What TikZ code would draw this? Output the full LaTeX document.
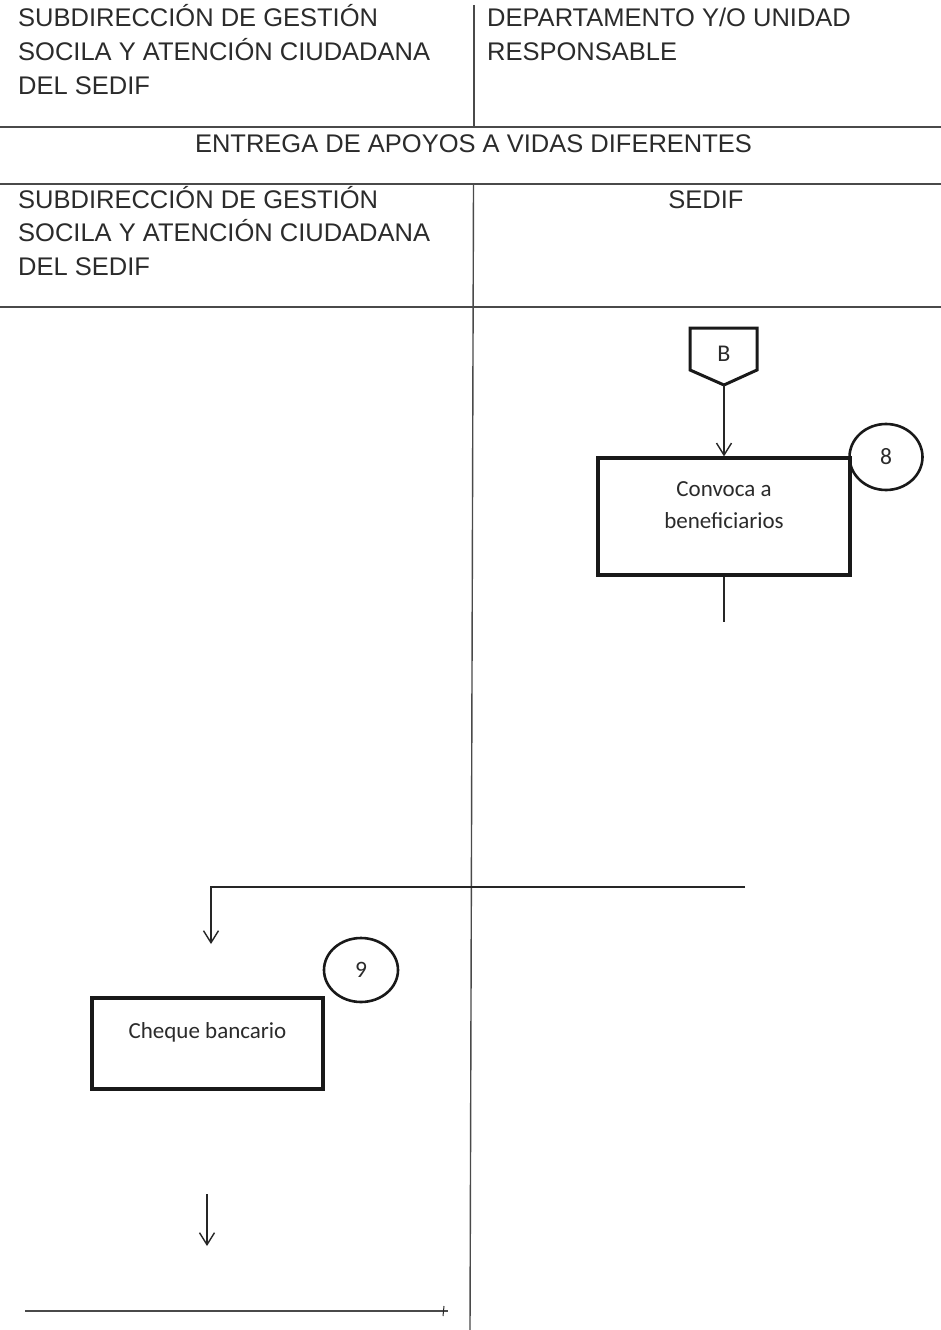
\documentclass[tikz,border=0pt]{standalone}
\usepackage{fontspec}
\setmainfont{Liberation Sans}
\newfontfamily\flowfont{Carlito}
\usetikzlibrary{arrows.meta,shapes.geometric}
\definecolor{ink}{HTML}{2B2B2B}
\definecolor{rule}{HTML}{4A4A4A}
\tikzset{
  hdr/.style={anchor=base west,inner sep=0,text=ink,font=\fontsize{25.5}{33.5}\selectfont},
  hdrc/.style={hdr,anchor=base},
  grid/.style={draw=rule,line width=1.4pt},
  procbox/.style={draw=black!90,line width=3.2pt,rectangle,inner sep=0},
  stepnum/.style={draw=black!90,line width=2.6pt,ellipse,inner sep=0,
    minimum width=73pt,minimum height=66pt,font=\flowfont\fontsize{23.5}{30}\selectfont,text=ink},
  flowtxt/.style={inner sep=0,align=center,text=ink,font=\flowfont\fontsize{23}{32}\selectfont},
  conn/.style={draw=black!85,line width=1.4pt},
  flowarrow/.style={conn,-{Straight Barb[length=12pt,width=15pt,line width=1.4pt]}}
}
\begin{document}
\begin{tikzpicture}[x=1pt,y=-1pt]
\useasboundingbox (0,0) rectangle (941,1330);
\fill[white] (0,0) rectangle (941,1330);

% table rules
\coordinate (vt0) at (474,5);
\coordinate (vt1) at (474,127);
\coordinate (vb0) at (473.5,184);
\coordinate (vb1) at (470,1330);
\draw[grid] (vt0) -- (vt1);
\draw[grid] (vb0) -- (vb1);
\coordinate (h1l) at (0,127);   \coordinate (h1r) at (941,127);
\coordinate (h2l) at (0,184);   \coordinate (h2r) at (941,184);
\coordinate (h3l) at (0,307);   \coordinate (h3r) at (941,307);
\draw[grid] (h1l) -- (h1r);
\draw[grid] (h2l) -- (h2r);
\draw[grid] (h3l) -- (h3r);

% header texts
\node[hdr] (ha1) at (18,27)   {SUBDIRECCIÓN DE GESTIÓN};
\node[hdr] (ha2) at (18,60.5) {SOCILA Y ATENCIÓN CIUDADANA};
\node[hdr] (ha3) at (18,94)   {DEL SEDIF};
\node[hdr] (hb1) at (487,27)   {DEPARTAMENTO Y/O UNIDAD};
\node[hdr] (hb2) at (487,60.5) {RESPONSABLE};
\node[hdrc] (title) at (473.5,152) {ENTREGA DE APOYOS A VIDAS DIFERENTES};
\node[hdr] (la1) at (18,208)   {SUBDIRECCIÓN DE GESTIÓN};
\node[hdr] (la2) at (18,241.5) {SOCILA Y ATENCIÓN CIUDADANA};
\node[hdr] (la3) at (18,275)   {DEL SEDIF};
\node[hdrc] (lb1) at (706,208) {SEDIF};

% off-page connector B
\draw[draw=black!90,line width=3pt,line join=miter]
  (690,328) -- (757,328) -- (757,370) -- (724,385) -- (690,370) -- cycle;
\node[flowtxt,font=\flowfont\fontsize{24}{30}\selectfont] (B) at (724,354) {B};
\coordinate (Btip) at (724,385);

% step 8
\node[procbox,minimum width=252pt,minimum height=117pt] (box8) at (724,516.5) {};
\node[flowtxt] (t8) at (724,505) {Convoca a\\beneficiarios};
\node[stepnum] (n8) at (886,457) {8};
\draw[flowarrow] (Btip) -- (box8.north);
\coordinate (d8) at (724,622);
\draw[conn] (box8.south) -- (d8);

% transfer to the left lane
\coordinate (jr) at (745,887);
\coordinate (jl) at (211,887);
\coordinate (ja) at (211,944);
\draw[flowarrow] (jr) -- (jl) -- (ja);

% step 9
\node[procbox,minimum width=231pt,minimum height=91pt] (box9) at (207.5,1043.5) {};
\node[flowtxt] (t9) at (207.5,1032) {Cheque bancario};
\node[stepnum,minimum width=74pt,minimum height=64pt] (n9) at (361,970) {9};

% exit
\coordinate (e0) at (207,1194);
\coordinate (e1) at (207,1246);
\draw[flowarrow] (e0) -- (e1);
\coordinate (b0) at (25,1311);
\coordinate (b1) at (448,1311);
\draw[grid,line width=1.8pt] (b0) -- (b1);
\coordinate (k0) at (444,1306);
\coordinate (k1) at (443,1316);
\draw[conn,line width=1pt] (k0) -- (k1);
\end{tikzpicture}
\end{document}
